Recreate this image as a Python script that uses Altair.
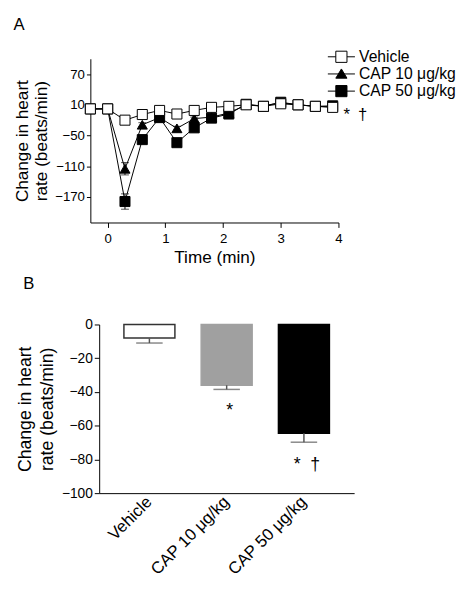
import altair as alt
import pandas as pd

FONT = "Liberation Sans"

# ---------------- Panel A data ----------------
TIME = [-0.3, 0.0, 0.3, 0.6, 0.9, 1.2, 1.5, 1.8, 2.1, 2.4, 2.7, 3.0, 3.3, 3.6, 3.9]
SERIES = ["Vehicle", "CAP 10 μg/kg", "CAP 50 μg/kg"]
VEHICLE = [2, 2, -20, -9, -1, -8, -1, 5, 7, 10, 7, 12, 10, 7, 5]
VEHICLE_SEM = [2, 2, 4, 3, 2, 2, 2, 2, 2, 2, 2, 2, 2, 2, 2]
CAP10 = [2, 2, -115, -29, -15, -36, -17, -14, -6, 10, 8, 14, 10, 7, 6]
CAP10_SEM = [2, 2, 12, 4, 3, 4, 3, 3, 2, 2, 2, 2, 2, 2, 2]
CAP50 = [2, 2, -179, -58, -15, -64, -35, -16, -8, 11, 7, 15, 10, 7, 8]
CAP50_SEM = [2, 2, 15, 5, 3, 4, 4, 3, 2, 2, 2, 2, 2, 2, 2]
DRAW_RANK = [3, 1, 2]
MARKER_SHAPES = ["square", "triangle-up", "square"]
MARKER_FILLS = ["white", "black", "black"]
LEGEND_PATHS = [
    "M-2.3,0H-0.95M0.95,0H2.3M-0.95,-0.95H0.95V0.95H-0.95Z",
    "M-2.3,0H2.3M0,-0.85L0.95,0.72H-0.95Z",
    "M-2.3,0H2.3M-0.95,-0.95H0.95V0.95H-0.95Z",
]
A_Y_TICKS = [70, 10, -50, -110, -170]
A_X_TICKS = [0, 1, 2, 3, 4]
A_NOTE = ["* \u2009†"]
A_NOTE_TIME = [3.9]
A_NOTE_Y = [-20]

# ---------------- Panel B data ----------------
GROUPS = ["Vehicle", "CAP 10 μg/kg", "CAP 50 μg/kg"]
MEAN = [-8, -36, -64.5]
SEM = [3, 2.5, 5.3]
BAR_FILL = ["white", "#a0a0a0", "black"]
BAR_STROKE = ["#333333", "#a0a0a0", "black"]
B_Y_TICKS = [0, -20, -40, -60, -80, -100]
B_NOTE_GROUPS = ["CAP 10 μg/kg", "CAP 50 μg/kg"]
B_NOTE_Y = [-54, -86]
B_NOTE_TEXT = ["*", "*\u00a0 †"]

rows = []
for name, vals, sems, rank in zip(SERIES, [VEHICLE, CAP10, CAP50],
                                   [VEHICLE_SEM, CAP10_SEM, CAP50_SEM], DRAW_RANK):
    for t, v, s in zip(TIME, vals, sems):
        rows.append({"time": t, "hr": v, "lo": v - s, "hi": v + s,
                     "series": name, "rank": rank})
dfA = pd.DataFrame(rows)

# the time axis starts 9 px left of the panel origin so that panel B's axis sits further right
xA = alt.Scale(domain=[-0.3, 4], range=[-9, 244], nice=False, zero=False)
yA = alt.Scale(domain=[-220, 100], nice=False, zero=False)

xaxA = alt.Axis(title="Time (min)", values=A_X_TICKS, grid=False, labelFlush=False,
                domainColor="black", tickColor="black", tickSize=5,
                labelFont=FONT, labelFontSize=13.5, labelColor="black", labelPadding=4,
                titleFont=FONT, titleFontSize=17.5, titleFontWeight="normal",
                titleColor="black", titlePadding=4)
yaxA = alt.Axis(title=["Change in heart", "rate (beats/min)"], values=A_Y_TICKS,
                grid=False, domainColor="black", tickColor="black", tickSize=4,
                labelFont=FONT, labelFontSize=13.5, labelColor="black", labelPadding=2,
                titleFont=FONT, titleFontSize=17.5, titleFontWeight="normal",
                titleColor="black", titlePadding=4, titleLineHeight=20, offset=9)

X = alt.X("time:Q", scale=xA, axis=xaxA)

lines = alt.Chart(dfA).mark_line(color="black", strokeWidth=1).encode(
    x=X, y=alt.Y("hr:Q", scale=yA, axis=yaxA), detail="series:N",
    order="time:Q")
err = alt.Chart(dfA).mark_rule(color="black", strokeWidth=1).encode(
    x=X, y=alt.Y("lo:Q", scale=yA, axis=yaxA), y2="hi:Q")
cap_lo = alt.Chart(dfA).mark_tick(color="black", orient="horizontal", size=8,
                                  thickness=1).encode(
    x=X, y=alt.Y("lo:Q", scale=yA, axis=yaxA))
cap_hi = alt.Chart(dfA).mark_tick(color="black", orient="horizontal", size=8,
                                  thickness=1).encode(
    x=X, y=alt.Y("hi:Q", scale=yA, axis=yaxA))
points = alt.Chart(dfA).mark_point(filled=True, size=105, stroke="black",
                                   strokeWidth=1, opacity=1).encode(
    x=X, y=alt.Y("hr:Q", scale=yA, axis=yaxA),
    shape=alt.Shape("series:N", scale=alt.Scale(domain=SERIES, range=MARKER_SHAPES),
                    legend=None),
    color=alt.Color("series:N", scale=alt.Scale(domain=SERIES, range=MARKER_FILLS),
                    legend=None),
    order="rank:Q")
leg = alt.Legend(title=None, orient="none", legendX=239, legendY=-10,
                 labelFont=FONT, labelFontSize=16, labelColor="black", labelOffset=10,
                 symbolSize=144, symbolStrokeWidth=1, symbolStrokeColor="black",
                 symbolFillColor="white", symbolOpacity=1, rowPadding=1.5, padding=0)
# legend-only layer: no data rows are drawn, its scales only feed the legend
legend_layer = alt.Chart(dfA).transform_filter("datum.time > 100").mark_point(
    filled=False, size=144, stroke="black", strokeWidth=1, opacity=1).encode(
    x=X, y=alt.Y("hr:Q", scale=yA, axis=yaxA),
    shape=alt.Shape("series:N", scale=alt.Scale(domain=SERIES, range=LEGEND_PATHS),
                    legend=leg),
    fill=alt.Fill("series:N", scale=alt.Scale(domain=SERIES, range=MARKER_FILLS),
                  legend=leg))
noteA = alt.Chart(pd.DataFrame({"time": A_NOTE_TIME, "hr": A_NOTE_Y, "t": A_NOTE})).mark_text(
    font=FONT, fontSize=17, align="left", baseline="alphabetic", dx=11, color="black"
).encode(x=X, y=alt.Y("hr:Q", scale=yA, axis=yaxA), text="t:N")

chartA = alt.layer(lines, err, cap_lo, cap_hi, points, legend_layer, noteA).resolve_scale(
    shape="independent", color="independent", fill="independent"
).properties(width=244, height=167,
             title=alt.Title("A", anchor="start", font=FONT, fontSize=17,
                             fontWeight="normal", color="black", offset=15.5))

# ---------------- Panel B ----------------
dfB = pd.DataFrame({"group": GROUPS, "mean": MEAN,
                    "lo": [m - s for m, s in zip(MEAN, SEM)]})
dfBn = pd.DataFrame({"group": B_NOTE_GROUPS, "y": B_NOTE_Y, "t": B_NOTE_TEXT})

xB = alt.Scale(domain=GROUPS, paddingInner=0.34, paddingOuter=0.32)
yB = alt.Scale(domain=[-100, 0], nice=False)
xaxB = alt.Axis(title=None, ticks=False, domainColor="black", labelAngle=-45,
                labelAlign="right", labelBaseline="middle", labelFont=FONT,
                labelFontSize=17, labelColor="black", labelPadding=6, grid=False)
yaxB = alt.Axis(title=["Change in heart", "rate (beats/min)"], values=B_Y_TICKS,
                grid=False, domainColor="black", tickColor="black", tickSize=5,
                labelFont=FONT, labelFontSize=14, labelColor="black", labelPadding=2,
                titleFont=FONT, titleFontSize=18, titleFontWeight="normal",
                titleColor="black", titlePadding=5, titleLineHeight=23)
XB = alt.X("group:N", scale=xB, axis=xaxB, sort=GROUPS)

bars = alt.Chart(dfB).mark_bar(strokeWidth=1.5).encode(
    x=XB, y=alt.Y("mean:Q", scale=yB, axis=yaxB),
    fill=alt.Fill("group:N", scale=alt.Scale(domain=GROUPS, range=BAR_FILL), legend=None),
    stroke=alt.Stroke("group:N", scale=alt.Scale(domain=GROUPS, range=BAR_STROKE),
                      legend=None))
errB = alt.Chart(dfB).mark_rule(color="#555555", strokeWidth=1.5).encode(
    x=XB, y=alt.Y("mean:Q", scale=yB, axis=yaxB), y2="lo:Q")
capB = alt.Chart(dfB).mark_tick(color="#555555", size=27, thickness=1.5).encode(
    x=XB, y=alt.Y("lo:Q", scale=yB, axis=yaxB))
noteB = alt.Chart(dfBn).mark_text(font=FONT, fontSize=18, align="center",
                                  baseline="alphabetic", dx=3, color="black").encode(
    x=XB, y=alt.Y("y:Q", scale=yB, axis=yaxB), text="t:N")

chartB = alt.layer(bars, errB, capB, noteB).properties(
    width=260, height=172,
    title=alt.Title("B", anchor="start", font=FONT, fontSize=17, fontWeight="normal",
                    color="black", offset=25, dx=7))

chart = alt.concat(chartA, chartB, columns=1, spacing=10).properties(
    padding={"left": 5, "top": 2, "right": 5, "bottom": 5}
).configure_view(stroke=None)

chart.save("out.html", embed_options={"renderer": "svg", "actions": False})
